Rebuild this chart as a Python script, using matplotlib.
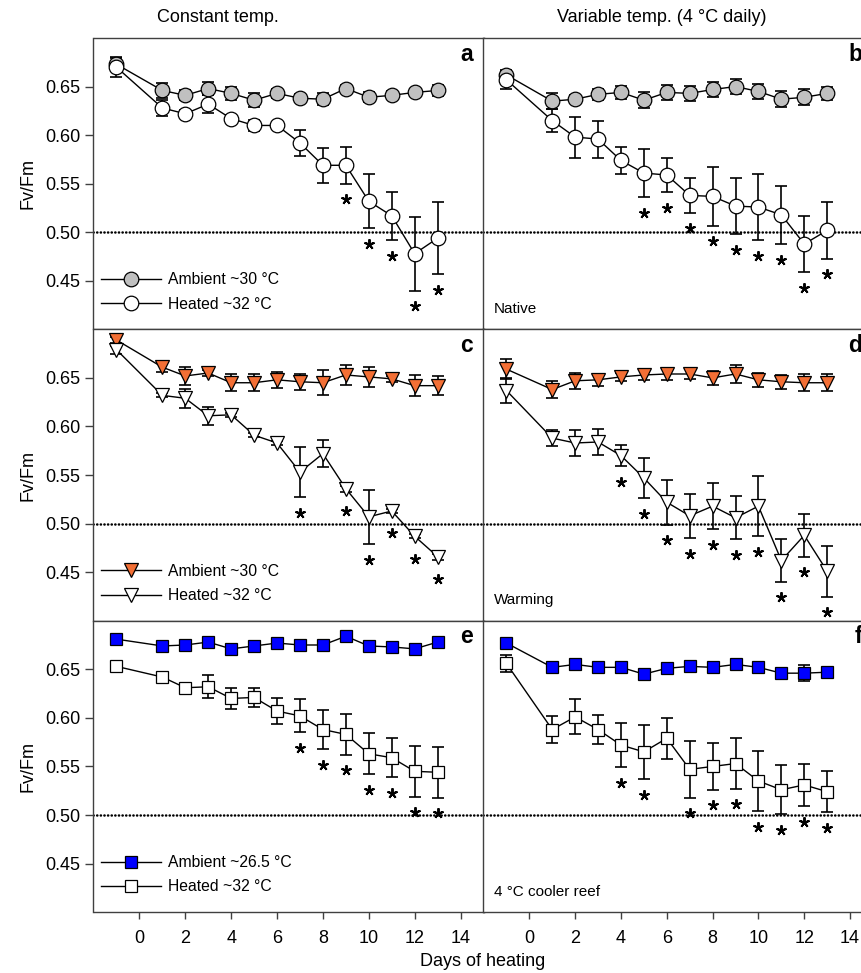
import matplotlib
matplotlib.use("Agg")
import matplotlib.pyplot as plt
import numpy as np

plt.rcParams["font.family"] = ["Liberation Sans", "DejaVu Sans"]

# sampling days (no day 0 measurement)
days = [-1, 1, 2, 3, 4, 5, 6, 7, 8, 9, 10, 11, 12, 13]
x_ticks = [0, 2, 4, 6, 8, 10, 12, 14]
y_ticks = [0.45, 0.50, 0.55, 0.60, 0.65]

# panel a: constant temp, native
a_amb = [0.673, 0.646, 0.641, 0.648, 0.643, 0.636, 0.643, 0.638, 0.637, 0.648, 0.639, 0.641, 0.644, 0.646]
a_amb_err = [0.006, 0.008, 0.005, 0.007, 0.007, 0.007, 0.005, 0.004, 0.006, 0.004, 0.005, 0.004, 0.004, 0.006]
a_heat = [0.670, 0.628, 0.622, 0.632, 0.617, 0.610, 0.610, 0.592, 0.569, 0.569, 0.532, 0.517, 0.478, 0.494]
a_heat_err = [0.010, 0.008, 0.004, 0.009, 0.004, 0.006, 0.003, 0.013, 0.018, 0.019, 0.028, 0.025, 0.038, 0.037]
a_sig = [9, 10, 11, 12, 13]

# panel b: variable temp, native
b_amb = [0.662, 0.635, 0.637, 0.642, 0.644, 0.636, 0.644, 0.643, 0.647, 0.650, 0.645, 0.637, 0.639, 0.643]
b_amb_err = [0.004, 0.008, 0.004, 0.006, 0.007, 0.008, 0.008, 0.008, 0.008, 0.008, 0.008, 0.008, 0.008, 0.007]
b_heat = [0.657, 0.615, 0.598, 0.596, 0.574, 0.561, 0.559, 0.538, 0.537, 0.527, 0.526, 0.518, 0.488, 0.502]
b_heat_err = [0.010, 0.012, 0.021, 0.019, 0.014, 0.025, 0.018, 0.018, 0.030, 0.029, 0.034, 0.030, 0.029, 0.029]
b_sig = [5, 6, 7, 8, 9, 10, 11, 12, 13]

# panel c: constant temp, warming
c_amb = [0.689, 0.661, 0.652, 0.655, 0.645, 0.645, 0.648, 0.646, 0.645, 0.653, 0.651, 0.649, 0.642, 0.642]
c_amb_err = [0.003, 0.005, 0.009, 0.003, 0.009, 0.009, 0.008, 0.008, 0.013, 0.010, 0.010, 0.003, 0.011, 0.010]
c_heat = [0.679, 0.632, 0.629, 0.611, 0.612, 0.591, 0.583, 0.553, 0.572, 0.536, 0.507, 0.513, 0.487, 0.466]
c_heat_err = [0.004, 0.002, 0.010, 0.009, 0.002, 0.002, 0.002, 0.026, 0.014, 0.003, 0.028, 0.002, 0.002, 0.003]
c_sig = [7, 9, 10, 11, 12, 13]

# panel d: variable temp, warming
d_amb = [0.659, 0.638, 0.647, 0.648, 0.651, 0.653, 0.654, 0.654, 0.650, 0.654, 0.648, 0.646, 0.645, 0.645]
d_amb_err = [0.010, 0.009, 0.008, 0.006, 0.004, 0.005, 0.006, 0.005, 0.007, 0.009, 0.007, 0.007, 0.009, 0.009]
d_heat = [0.637, 0.588, 0.583, 0.584, 0.570, 0.547, 0.522, 0.508, 0.518, 0.506, 0.518, 0.462, 0.488, 0.451]
d_heat_err = [0.013, 0.008, 0.013, 0.013, 0.011, 0.021, 0.023, 0.023, 0.024, 0.022, 0.031, 0.022, 0.022, 0.026]
d_sig = [4, 5, 6, 7, 8, 9, 10, 11, 12, 13]

# panel e: constant temp, cooler reef
e_amb = [0.681, 0.674, 0.675, 0.678, 0.671, 0.674, 0.677, 0.675, 0.675, 0.684, 0.674, 0.673, 0.671, 0.678]
e_amb_err = [0.002, 0.002, 0.002, 0.002, 0.002, 0.002, 0.002, 0.002, 0.002, 0.002, 0.002, 0.002, 0.002, 0.002]
e_heat = [0.653, 0.642, 0.631, 0.632, 0.620, 0.621, 0.607, 0.602, 0.588, 0.583, 0.563, 0.559, 0.545, 0.544]
e_heat_err = [0.002, 0.004, 0.003, 0.012, 0.011, 0.010, 0.013, 0.017, 0.020, 0.021, 0.021, 0.020, 0.026, 0.026]
e_sig = [7, 8, 9, 10, 11, 12, 13]

# panel f: variable temp, cooler reef
f_amb = [0.677, 0.652, 0.655, 0.652, 0.652, 0.645, 0.651, 0.653, 0.652, 0.655, 0.652, 0.646, 0.646, 0.647]
f_amb_err = [0.003, 0.003, 0.003, 0.003, 0.003, 0.003, 0.003, 0.003, 0.003, 0.003, 0.003, 0.003, 0.0085, 0.003]
f_heat = [0.656, 0.588, 0.601, 0.588, 0.572, 0.565, 0.579, 0.547, 0.550, 0.553, 0.535, 0.526, 0.531, 0.524]
f_heat_err = [0.009, 0.014, 0.018, 0.015, 0.023, 0.028, 0.021, 0.029, 0.024, 0.026, 0.031, 0.025, 0.022, 0.021]
f_sig = [4, 5, 7, 8, 9, 10, 11, 12, 13]

col_titles = ["Constant temp.", "Variable temp. (4 °C daily)"]
row_notes = ["Native", "Warming", "4 °C cooler reef"]
amb_labels = ["Ambient ~30 °C", "Ambient ~30 °C", "Ambient ~26.5 °C"]
heat_label = "Heated ~32 °C"
letters = [["a", "b"], ["c", "d"], ["e", "f"]]

panels = [
    [(a_amb, a_amb_err, a_heat, a_heat_err, a_sig), (b_amb, b_amb_err, b_heat, b_heat_err, b_sig)],
    [(c_amb, c_amb_err, c_heat, c_heat_err, c_sig), (d_amb, d_amb_err, d_heat, d_heat_err, d_sig)],
    [(e_amb, e_amb_err, e_heat, e_heat_err, e_sig), (f_amb, f_amb_err, f_heat, f_heat_err, f_sig)],
]
row_style = [
    dict(marker="o", ms=10.5, color="#c0c0c0"),
    dict(marker="v", ms=10, color="#f36f35"),
    dict(marker="s", ms=9.3, color="#0000ff"),
]

W, H = 862, 973
fig = plt.figure(figsize=(W / 100, H / 100), dpi=100)


def px_axes(left, top, w, h):
    return fig.add_axes([left / W, 1 - (top + h) / H, w / W, h / H])


col_left = [93.5, 483.5]
col_w = [390, 389.5]
row_top = [38, 329.3, 620.7]
row_h = 291.5

days_arr = np.array(days)
for r in range(3):
    for c in range(2):
        ax = px_axes(col_left[c], row_top[r], col_w[c], row_h)
        amb, amb_err, heat, heat_err, sig = panels[r][c]
        st = row_style[r]
        ax.axhline(0.5, color="black", lw=1.8, linestyle=(0, (0.1, 1.35)),
                   dash_capstyle="round", zorder=1)
        for vals, errs in ((amb, amb_err), (heat, heat_err)):
            ax.errorbar(days, vals, yerr=errs, fmt="none", ecolor="black",
                        elinewidth=1.2, capsize=4.2, capthick=1.2, zorder=2)
        ax.plot(days, amb, color="black", lw=1.0, marker=st["marker"], ms=st["ms"],
                mfc=st["color"], mec="black", mew=0.9, zorder=3, label=amb_labels[r])
        ax.plot(days, heat, color="black", lw=1.0, marker=st["marker"], ms=st["ms"],
                mfc="white", mec="black", mew=0.9, zorder=4, label=heat_label)

        # significance asterisks under heated points
        heat_arr = np.array(heat)
        err_arr = np.array(heat_err)
        idx = [days.index(d) for d in sig]
        low = np.minimum(heat_arr[idx] - err_arr[idx], heat_arr[idx] - 0.007)
        ax.plot(days_arr[idx], low - 0.016, linestyle="none", marker=(5, 2, 0),
                ms=7.5, mew=1.4, color="black", zorder=5)

        ax.set_xlim(-2, 15)
        ax.set_ylim(0.40, 0.70)
        for s in ax.spines.values():
            s.set_color("#404040")
            s.set_linewidth(1.0)
        ax.tick_params(direction="out", length=6, width=1, color="#404040",
                       labelsize=13)
        ax.set_xticks(x_ticks)
        ax.set_yticks(y_ticks)
        ax.yaxis.set_major_formatter(matplotlib.ticker.FormatStrFormatter("%.2f"))
        if c == 1:
            ax.tick_params(axis="y", left=False, labelleft=False)
        else:
            ax.set_ylabel("Fv/Fm", fontsize=13, labelpad=6)
        if r < 2:
            ax.tick_params(axis="x", bottom=False, labelbottom=False)
        else:
            ax.tick_params(axis="x", length=5, pad=8)

        ax.text(0.972, 0.945, letters[r][c], transform=ax.transAxes, ha="right",
                va="center", fontsize=16.5, fontweight="bold")
        if c == 0:
            ax.legend(loc="lower left", bbox_to_anchor=(0.012, 0.05), frameon=False,
                      fontsize=11.3, handlelength=3.8, handletextpad=0.45,
                      labelspacing=0.6, borderaxespad=0, borderpad=0.2)
        else:
            ax.text(0.027, 0.07, row_notes[r], transform=ax.transAxes, ha="left",
                    va="center", fontsize=11)

fig.text(157 / W, 1 - 18 / H, col_titles[0], ha="left", va="center", fontsize=13)
fig.text(557 / W, 1 - 18 / H, col_titles[1], ha="left", va="center", fontsize=13)
fig.text(483 / W, 1 - 962 / H, "Days of heating", ha="center", va="center", fontsize=13)

fig.savefig("out.png", dpi=100)
